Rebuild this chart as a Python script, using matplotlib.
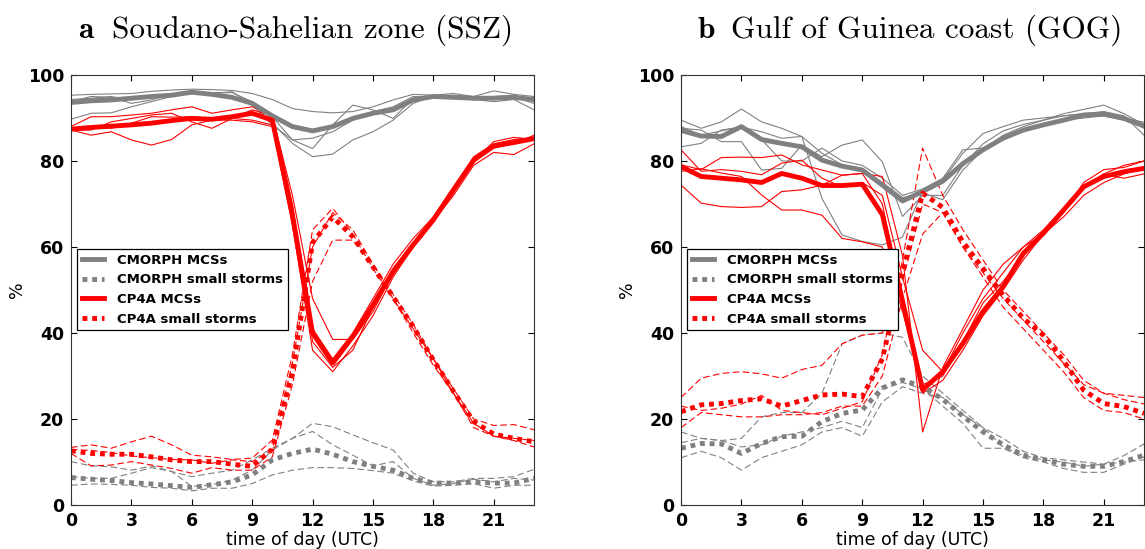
"""
Diurnal cycle of rain fraction from MCSs vs small storms, CMORPH vs CP4A,
for the Soudano-Sahelian zone and the Gulf of Guinea coast.
"""

import numpy as np
import matplotlib
matplotlib.use("Agg")
import matplotlib.pyplot as plt

HOURS = np.arange(24)
GREY = "#808080"
RED  = "#ff0000"

# ── Panel a: Soudano-Sahelian zone (SSZ) ─────────────────────────────────────
ssz_cmorph_mcs = [93.6, 94.0, 94.2, 94.6, 95.0, 95.3, 96.0, 95.5, 94.8, 93.4, 90.5, 88.0,
                  87.0, 88.0, 89.9, 91.1, 91.9, 94.2, 95.0, 94.8, 94.6, 94.6, 94.8, 94.3]
ssz_cmorph_small = [6.4, 6.0, 5.7, 5.2, 4.9, 4.5, 4.1, 4.7, 5.4, 7.0, 10.5, 12.0,
                    13.0, 11.8, 10.1, 9.0, 8.1, 6.2, 5.1, 5.1, 5.4, 5.1, 5.1, 6.2]
ssz_cp4a_mcs = [87.4, 87.8, 88.1, 88.4, 88.8, 89.4, 89.9, 89.7, 90.3, 91.1, 89.5, 67.5,
                40.0, 33.0, 39.2, 46.5, 54.3, 60.5, 66.3, 73.3, 80.2, 83.5, 84.3, 85.2]
ssz_cp4a_small = [12.6, 12.0, 11.8, 11.8, 11.2, 10.5, 10.1, 10.1, 9.5, 9.0, 13.0, 31.0,
                  61.0, 67.0, 62.4, 55.4, 48.4, 41.5, 33.7, 26.4, 19.4, 16.5, 15.5, 14.7]

ssz_cmorph_mcs_members = [
    [95.3, 95.5, 95.6, 95.7, 96.2, 96.5, 96.7, 96.6, 96.4, 95.7, 94.3, 92.2,
     91.5, 91.2, 91.5, 92.6, 94.2, 95.5, 95.3, 95.7, 95.0, 96.3, 95.5, 95.0],
    [89.7, 91.1, 91.2, 92.6, 93.8, 95.0, 96.1, 95.3, 95.0, 93.4, 88.8, 84.1,
     81.0, 81.6, 84.9, 86.8, 89.5, 93.4, 95.1, 95.0, 94.3, 93.8, 94.3, 91.9],
    [93.8, 95.0, 94.8, 93.4, 94.2, 95.7, 95.7, 95.7, 96.1, 93.0, 88.4, 84.9,
     82.9, 88.4, 93.0, 91.9, 89.9, 94.6, 95.1, 95.0, 94.2, 95.0, 95.3, 93.8],
    [94.3, 94.6, 95.0, 94.2, 95.0, 95.1, 95.7, 95.9, 95.9, 93.8, 90.3, 84.9,
     85.3, 86.8, 89.5, 91.5, 92.6, 95.0, 94.8, 95.3, 94.8, 94.3, 94.8, 93.4],
]
ssz_cmorph_small_members = [
    [10.1, 9.1, 8.9, 8.1, 9.1, 7.8, 6.6, 7.4, 8.1, 10.5, 13.2, 15.5,
     19.0, 18.2, 16.3, 14.5, 12.8, 7.4, 5.4, 5.4, 6.2, 6.2, 6.6, 8.3],
    [4.6, 4.9, 4.8, 4.6, 4.1, 3.9, 3.3, 3.9, 3.9, 5.0, 7.0, 8.1,
     8.7, 8.7, 8.5, 8.0, 7.4, 5.6, 4.4, 4.6, 5.0, 3.9, 4.6, 4.6],
    [6.6, 6.2, 6.2, 7.4, 8.7, 7.8, 4.3, 4.7, 5.8, 8.1, 12.8, 15.5,
     17.1, 14.0, 11.6, 9.1, 10.1, 6.2, 4.6, 5.0, 6.0, 5.4, 6.2, 5.8],
]
ssz_cp4a_mcs_members = [
    [87.2, 86.0, 86.8, 84.9, 83.7, 85.0, 88.4, 89.5, 89.5, 89.1, 88.0, 65.0,
     36.0, 31.0, 37.0, 44.0, 53.0, 60.0, 67.0, 74.0, 80.0, 83.0, 84.0, 86.0],
    [88.0, 90.3, 90.3, 90.7, 91.1, 91.9, 92.6, 91.1, 91.9, 92.6, 90.5, 72.0,
     48.0, 38.5, 38.5, 45.0, 54.0, 60.0, 66.0, 72.0, 79.0, 82.0, 81.5, 84.0],
    [87.2, 87.2, 89.1, 89.9, 90.7, 91.1, 89.1, 87.6, 89.9, 91.9, 90.5, 70.0,
     38.0, 32.0, 36.0, 46.0, 55.0, 61.0, 66.0, 73.0, 81.0, 84.0, 85.0, 85.5],
    [87.6, 88.0, 87.6, 88.8, 90.3, 90.2, 90.3, 89.9, 89.9, 89.5, 88.4, 66.0,
     41.0, 34.0, 40.0, 48.0, 56.0, 62.0, 67.0, 73.0, 80.0, 84.5, 85.5, 85.0],
]
ssz_cp4a_small_members = [
    [13.4, 14.0, 13.2, 14.7, 16.0, 14.0, 11.6, 11.2, 10.6, 10.9, 15.1, 35.0,
     64.0, 69.0, 63.0, 55.0, 48.0, 41.0, 34.0, 27.0, 20.0, 18.5, 18.7, 17.5],
    [12.0, 9.1, 9.3, 10.1, 9.3, 8.5, 7.4, 8.7, 8.1, 8.1, 11.2, 28.0,
     52.0, 61.6, 61.6, 56.0, 49.0, 42.0, 34.0, 26.0, 18.0, 16.0, 15.0, 13.5],
    [12.9, 12.7, 12.2, 11.4, 11.0, 10.6, 10.5, 9.7, 10.5, 10.1, 12.8, 33.0,
     60.0, 68.0, 64.0, 56.0, 48.0, 40.0, 32.5, 26.0, 19.0, 16.0, 15.5, 15.0],
]

# ── Panel b: Gulf of Guinea coast (GOG) ──────────────────────────────────────
gog_cmorph_mcs = [87.1, 85.8, 85.7, 88.0, 85.0, 84.1, 83.3, 80.2, 78.8, 77.9, 74.4, 70.7,
                  72.9, 75.3, 79.4, 82.6, 85.3, 87.2, 88.4, 89.5, 90.7, 90.9, 89.9, 88.1]
gog_cmorph_small = [13.2, 14.3, 14.2, 12.0, 14.3, 15.9, 16.0, 19.4, 21.3, 22.1, 27.2, 29.1,
                    27.5, 24.6, 20.7, 17.0, 14.0, 11.6, 10.5, 9.5, 9.0, 9.0, 10.1, 11.6]
gog_cp4a_mcs = [78.7, 76.4, 76.0, 75.6, 75.0, 77.1, 76.0, 74.3, 74.3, 74.6, 67.5, 47.5,
                26.8, 31.0, 37.6, 45.0, 50.8, 58.5, 63.2, 68.6, 74.0, 76.4, 77.5, 78.3]
gog_cp4a_small = [21.7, 23.3, 23.6, 24.3, 24.7, 23.0, 24.3, 25.6, 25.8, 25.2, 34.0, 54.0,
                  72.5, 69.2, 61.2, 55.0, 48.8, 43.4, 39.5, 33.5, 26.7, 23.6, 22.9, 21.3]

gog_cmorph_mcs_members = [
    [89.5, 87.6, 89.1, 92.1, 89.1, 87.6, 85.7, 81.8, 79.1, 78.3, 75.0, 71.5,
     72.5, 71.0, 77.9, 82.6, 86.0, 88.0, 89.5, 91.0, 92.0, 93.0, 91.0, 88.5],
    [83.3, 84.1, 87.2, 87.9, 86.8, 85.3, 85.7, 71.3, 62.8, 61.3, 60.5, 62.3,
     73.0, 75.6, 81.8, 86.4, 88.0, 89.5, 90.0, 90.5, 91.0, 91.5, 90.5, 86.0],
    [87.6, 87.2, 84.5, 84.5, 77.9, 78.3, 83.7, 81.0, 83.7, 84.9, 79.8, 67.1,
     72.0, 72.0, 79.0, 84.0, 87.0, 88.5, 89.5, 90.5, 91.0, 91.0, 90.0, 89.0],
    [88.0, 86.0, 87.0, 88.0, 85.0, 80.0, 80.0, 83.0, 80.0, 79.0, 76.0, 72.0,
     73.5, 76.0, 82.6, 83.0, 85.0, 87.0, 88.5, 89.5, 90.0, 90.5, 89.5, 88.0],
]
gog_cmorph_small_members = [
    [17.0, 15.5, 15.0, 15.5, 20.5, 21.5, 21.5, 26.0, 37.5, 39.5, 40.0, 39.0,
     30.0, 26.0, 22.0, 18.0, 13.5, 11.5, 10.5, 10.0, 9.0, 9.5, 11.5, 14.2],
    [14.5, 15.5, 15.0, 13.5, 14.0, 16.0, 17.0, 18.0, 19.5, 18.0, 27.0, 28.5,
     27.0, 23.0, 19.0, 13.2, 13.2, 11.0, 10.0, 8.5, 7.6, 7.6, 9.5, 11.2],
    [11.0, 12.5, 11.0, 8.1, 11.0, 12.5, 14.0, 17.0, 18.0, 16.0, 24.0, 27.5,
     26.0, 25.0, 21.0, 18.0, 15.5, 12.5, 11.0, 10.5, 10.0, 9.5, 10.0, 10.5],
]
gog_cp4a_mcs_members = [
    [82.6, 77.6, 78.0, 77.6, 76.8, 79.5, 80.2, 76.0, 74.0, 75.0, 72.0, 53.0,
     36.0, 31.0, 40.0, 48.0, 54.0, 60.0, 64.0, 69.0, 74.0, 77.0, 79.0, 80.0],
    [79.1, 78.0, 80.8, 80.9, 80.8, 81.4, 79.1, 77.9, 76.7, 77.1, 76.4, 58.0,
     17.0, 32.0, 41.0, 50.0, 56.0, 60.0, 63.0, 67.0, 72.0, 75.0, 77.0, 78.5],
    [77.6, 78.2, 77.2, 76.4, 72.1, 68.6, 68.6, 67.4, 62.0, 61.2, 60.0, 45.0,
     28.0, 30.0, 38.0, 47.0, 52.0, 58.0, 63.0, 69.0, 74.0, 77.0, 76.0, 77.0],
    [74.4, 70.2, 69.4, 69.2, 69.4, 72.9, 73.3, 74.4, 76.7, 77.1, 70.0, 47.0,
     26.0, 29.0, 36.0, 44.0, 50.0, 57.0, 63.0, 68.0, 75.0, 78.0, 78.5, 80.0],
]
gog_cp4a_small_members = [
    [25.0, 29.5, 30.6, 31.0, 30.5, 29.5, 31.5, 32.5, 37.5, 39.5, 40.0, 52.0,
     70.0, 68.0, 60.0, 54.0, 48.0, 43.0, 38.0, 33.0, 28.0, 26.0, 25.5, 25.0],
    [23.0, 22.0, 22.5, 23.5, 25.5, 22.0, 21.5, 21.0, 22.5, 24.0, 35.0, 57.0,
     83.0, 72.0, 64.0, 57.0, 50.0, 45.0, 40.0, 35.0, 29.0, 26.0, 24.5, 23.5],
    [18.0, 21.5, 21.0, 20.5, 20.5, 21.0, 21.0, 21.5, 23.0, 23.0, 30.0, 48.0,
     63.0, 68.0, 60.0, 53.0, 46.0, 41.0, 36.0, 31.0, 25.0, 22.0, 21.5, 20.0],
]

PANELS = [
    ("a", "Soudano-Sahelian zone (SSZ)",
     ssz_cmorph_mcs, ssz_cmorph_small, ssz_cp4a_mcs, ssz_cp4a_small,
     ssz_cmorph_mcs_members, ssz_cmorph_small_members,
     ssz_cp4a_mcs_members, ssz_cp4a_small_members),
    ("b", "Gulf of Guinea coast (GOG)",
     gog_cmorph_mcs, gog_cmorph_small, gog_cp4a_mcs, gog_cp4a_small,
     gog_cmorph_mcs_members, gog_cmorph_small_members,
     gog_cp4a_mcs_members, gog_cp4a_small_members),
]

DOTS   = (0, (1, 1))
DASHES = (0, (6, 3))

# ── Figure ───────────────────────────────────────────────────────────────────
fig = plt.figure(figsize=(11.45, 5.49), dpi=100)
axes = [fig.add_axes([0.0620, 0.0801, 0.4044, 0.7833]),
        fig.add_axes([0.5948, 0.0801, 0.4044, 0.7833])]
title_x = [(78, 112), (697, 731)]

for ax, panel, (xl, xt) in zip(axes, PANELS, title_x):
    (letter, region, c_mcs, c_small, m_mcs, m_small,
     c_mcs_mem, c_small_mem, m_mcs_mem, m_small_mem) = panel

    # thin ensemble members first
    for v in c_mcs_mem:
        ax.plot(HOURS, v, color=GREY, lw=0.8)
    for v in c_small_mem:
        ax.plot(HOURS, v, color=GREY, lw=0.8, ls=DASHES)
    for v in m_mcs_mem:
        ax.plot(HOURS, v, color=RED, lw=0.8)
    for v in m_small_mem:
        ax.plot(HOURS, v, color=RED, lw=0.8, ls=DASHES)

    # thick means
    ax.plot(HOURS, c_mcs, color=GREY, lw=3.5, label="CMORPH MCSs")
    ax.plot(HOURS, c_small, color=GREY, lw=3.5, ls=DOTS, label="CMORPH small storms")
    ax.plot(HOURS, m_mcs, color=RED, lw=3.5, label="CP4A MCSs")
    ax.plot(HOURS, m_small, color=RED, lw=3.5, ls=DOTS, label="CP4A small storms")

    ax.set_xlim(0, 23)
    ax.set_ylim(0, 100)
    ax.set_xticks(range(0, 22, 3))
    ax.set_yticks(range(0, 101, 20))
    ax.tick_params(direction="in", top=True, right=True, length=4, width=0.8,
                   labelsize=12.5, pad=5)
    for lab in ax.get_xticklabels() + ax.get_yticklabels():
        lab.set_fontweight("bold")
    ax.set_xlabel("time of day (UTC)", fontsize=12.5, labelpad=1)
    ax.set_ylabel("%", fontsize=12.5, labelpad=1)
    for s in ax.spines.values():
        s.set_linewidth(0.8)
        s.set_color("#333333")

    leg = ax.legend(loc="upper left", bbox_to_anchor=(0.013, 0.595), borderaxespad=0,
                    prop={"weight": "bold", "size": 9.5}, handlelength=1.7,
                    handletextpad=1.0, fancybox=False, framealpha=1,
                    edgecolor="black", borderpad=0.35, labelspacing=0.5)
    leg.get_frame().set_linewidth(0.9)

    fig.text(xl / 1145, 1 - 38 / 549, letter, family="cmb10", fontsize=22.5, va="baseline")
    fig.text(xt / 1145, 1 - 38 / 549, region, family="cmr10", fontsize=22.5, va="baseline")

fig.savefig("out.png", dpi=100)
plt.close(fig)
